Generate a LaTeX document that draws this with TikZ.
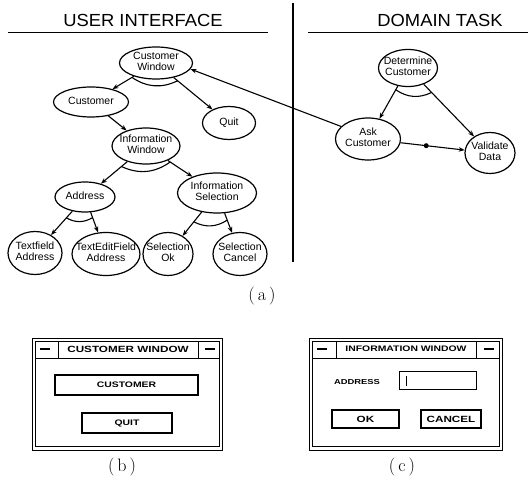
\documentclass[tikz,border=0pt]{standalone}
\usepackage{fontspec}
\usetikzlibrary{shapes.geometric,arrows.meta,calc}
\newfontfamily\uif{Liberation Sans}
\newfontfamily\ttlf[FakeStretch=1.05]{Liberation Sans}
\newfontfamily\widef[FakeStretch=1.3]{Liberation Sans}
\newcommand\ntx[1]{\makebox[0pt]{\begin{tabular}{@{}c@{}}#1\end{tabular}}}
\begin{document}
\begin{tikzpicture}[x=1pt,y=-1pt,
  ell/.style={ellipse, draw, line width=1.2pt, inner sep=0pt,
    font=\uif\fontsize{10.5}{11}\selectfont},
  arr/.style={-{Stealth[length=6pt,width=4.5pt]}, line width=1.1pt},
  andarc/.style={line width=1.1pt},
  ttl/.style={font=\ttlf\fontsize{17.5}{19}\selectfont, inner sep=0pt},
  lab/.style={font=\fontsize{18}{21}\selectfont, inner sep=0pt},
  win/.style={line width=0.9pt},
  wtxt/.style={font=\widef\bfseries\fontsize{8}{9}\selectfont, inner sep=0pt},
  btn/.style={draw, line width=1.2pt, inner sep=0pt, font=\widef\bfseries\fontsize{8}{9}\selectfont},
  dotn/.style={circle, fill, inner sep=0pt, minimum size=5pt}]
\useasboundingbox (0,0) rectangle (528,486);

% headings and divider
\node[ttl] (uih) at (143,20) {USER INTERFACE};
\node[ttl] (dth) at (440,20) {DOMAIN TASK};
\draw[line width=1pt] (8,33) -- (268,33);
\draw[line width=1pt] (308,33) -- (528,33);
\draw[line width=1.2pt] (293,3) -- (293,262);

% user interface tree
\node[ell, minimum width=73pt, minimum height=32pt] (cw) at (156,63) {\ntx{Customer\\Window}};
\node[ell, minimum width=75pt, minimum height=30pt] (cust) at (91,102) {\ntx{Customer}};
\node[ell, minimum width=53pt, minimum height=33pt] (quit) at (229,123) {\ntx{Quit}};
\node[ell, minimum width=68pt, minimum height=36pt] (iw) at (146,146) {\ntx{Information\\Window}};
\node[ell, minimum width=60pt, minimum height=30pt] (addr) at (85,197) {\ntx{Address}};
\node[ell, minimum width=79pt, minimum height=40pt] (isel) at (217,193) {\ntx{Information\\Selection}};
\node[ell, minimum width=54pt, minimum height=43pt] (tfa) at (35,253) {\ntx{Textfield\\Address}};
\node[ell, minimum width=68pt, minimum height=43pt] (tefa) at (106,254) {\ntx{TextEditField\\Address}};
\node[ell, minimum width=50pt, minimum height=43pt] (sok) at (168,254) {\ntx{Selection\\Ok}};
\node[ell, minimum width=54pt, minimum height=43pt] (scan) at (240,254) {\ntx{Selection\\Cancel}};

\draw[arr] (cw) -- (cust);
\draw[arr] (cw) -- (quit);
\draw[arr] (cust) -- (iw);
\draw[arr] (iw) -- (addr);
\draw[arr] (iw) -- (isel);
\draw[arr] (addr) -- (tfa);
\draw[arr] (addr) -- (tefa);
\draw[arr] (isel) -- (sok);
\draw[arr] (isel) -- (scan);

\draw[andarc] ($(cw.center)!28pt!(cust.center)$) to[bend right=30] ($(cw.center)!28pt!(quit.center)$);
\draw[andarc] ($(iw.center)!32pt!(addr.center)$) to[bend right=30] ($(iw.center)!29pt!(isel.center)$);
\draw[andarc] ($(addr.center)!28pt!(tfa.center)$) to[bend right=30] ($(addr.center)!22pt!(tefa.center)$);
\draw[andarc] ($(isel.center)!37pt!(sok.center)$) to[bend right=30] ($(isel.center)!29pt!(scan.center)$);

% domain task
\node[ell, minimum width=59pt, minimum height=37pt] (det) at (408,68) {\ntx{Determine\\Customer}};
\node[ell, minimum width=65pt, minimum height=42pt] (ask) at (368,139) {\ntx{Ask\\Customer}};
\node[ell, minimum width=50pt, minimum height=41pt] (val) at (490,153) {\ntx{Validate\\Data}};

\draw[arr] (det) -- (ask);
\draw[arr] (det) -- (val);
\draw[arr] (ask) -- node[dotn, pos=0.4] (dot) {} (val);
\draw[andarc] ($(det.center)!25pt!(ask.center)$) to[bend right=30] ($(det.center)!34pt!(val.center)$);
\draw[arr] (ask.155) -- (cw.-10);

\node[lab] (la) at (262,296) {(\,a\,)};

% window (b)
\draw[win] (32,338) rectangle (222,450);
\draw[win] (35,341) rectangle (219,446);
\draw[win] (35,358) -- (219,358);
\draw[win] (58,341) -- (58,358);
\draw[win] (198,341) -- (198,358);
\node[wtxt] (bm1) at (45,349) {\rule{10pt}{1.3pt}};
\node[wtxt] (bm2) at (210,349) {\rule{10pt}{1.3pt}};
\node[wtxt, font=\widef\bfseries\fontsize{9}{10}\selectfont] (btitle) at (128,349) {CUSTOMER WINDOW};
\node[btn, minimum width=143pt, minimum height=20pt] (bcust) at (126.5,385) {CUSTOMER};
\node[btn, minimum width=90pt, minimum height=20pt] (bquit) at (127,423) {QUIT};
\node[lab] (lb) at (122,467) {(\,b\,)};

% window (c)
\draw[win] (309,338) rectangle (502,450);
\draw[win] (312,341) rectangle (499,446);
\draw[win] (312,358) -- (499,358);
\draw[win] (336,341) -- (336,358);
\draw[win] (476,341) -- (476,358);
\node[wtxt] (cm1) at (322,349) {\rule{10pt}{1.3pt}};
\node[wtxt] (cm2) at (489,349) {\rule{10pt}{1.3pt}};
\node[wtxt] (ctitle) at (406,349) {INFORMATION WINDOW};
\node[wtxt, font=\widef\bfseries\fontsize{7.2}{8}\selectfont] (caddr) at (357,382) {ADDRESS};
\node[btn, line width=1pt, minimum width=77pt, minimum height=18pt] (cfield) at (437.5,381) {};
\draw[line width=1pt] ([xshift=8pt,yshift=-5pt]cfield.west) -- ([xshift=8pt,yshift=5pt]cfield.west);
\node[btn, font=\widef\bfseries\fontsize{9}{10}\selectfont, minimum width=67pt, minimum height=18pt] (cok) at (365.5,419) {OK};
\node[btn, font=\widef\bfseries\fontsize{9}{10}\selectfont, minimum width=60pt, minimum height=18pt] (ccan) at (451,419) {CANCEL};
\node[lab] (lc) at (402,467) {(\,c\,)};
\end{tikzpicture}
\end{document}
